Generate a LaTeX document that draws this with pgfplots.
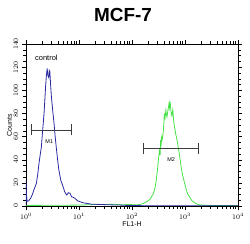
\documentclass[border=0pt]{standalone}
\usepackage{pgfplots}
\pgfplotsset{compat=1.18}
\usepackage{fontspec}
\setmainfont{Liberation Sans}
\definecolor{cblue}{RGB}{40,40,160}
\definecolor{cgreen}{RGB}{70,225,70}
\definecolor{mk}{RGB}{60,60,60}
\begin{document}
\begin{tikzpicture}
\useasboundingbox (0,0) rectangle (250bp,244bp);
\node[font=\bfseries\fontsize{19}{19}\selectfont] at (123bp,229bp) {MCF-7};
\begin{axis}[
  at={(26bp,38bp)}, anchor=south west,
  scale only axis, width=212bp, height=162bp,
  xmode=log, xmin=1, xmax=10000,
  ymin=0, ymax=140,
  ytick={0,20,40,60,80,100,120,140},
  minor y tick num=3,
  xtick={1,10,100,1000,10000},
  tick align=outside,
  tick label style={font=\fontsize{7.5}{7.5}\selectfont},
  yticklabel style={rotate=90},
  xlabel={FL1-H}, ylabel={Counts},
  label style={font=\fontsize{7}{7}\selectfont},
  xlabel style={yshift=5bp},
  ylabel style={yshift=-5bp},
  axis line style={black, line width=0.6pt},
  every tick/.style={black},
  clip=true,
]
\addplot[cgreen, line width=0.8pt] coordinates {
(1,0.5)(3,0.6)(10,0.8)(20,1.3)(30,1.2)(45,1.6)(60,1.0)(90,1.3)(123,0.9)(160,2)(190,3.8)(215,5.5)(234,8)(255,11)(275,16.7)(290,24)(302,31)(318,42)(331,48)(340,44)(347,57)(355,52)(363,60)(375,58)(389,64)(400,72)(407,80)(420,76)(437,83)(447,79)(457,77)(475,82)(490,86)(501,89)(512,85)(525,90)(538,84)(550,80)(565,78)(589,83)(610,74)(631,69)(670,62)(708,57)(750,50)(794,43)(850,33)(912,26)(980,20)(1047,14.9)(1130,10)(1230,7.7)(1350,4.5)(1514,2.9)(1700,1.6)(1905,1)(2344,0.7)(3000,0.5)(10000,0.5)
};
\addplot[cblue, line width=0.8pt] coordinates {
(1.0,0)(1.0,22)(1.02,10)(1.05,4)(1.12,4.5)(1.22,6.6)(1.32,10)(1.41,13.9)(1.57,19.6)(1.66,27)(1.76,37)(1.85,44)(1.95,51)(2.05,64)(2.19,80)(2.27,92)(2.34,103)(2.42,112)(2.51,119)(2.58,113)(2.69,111)(2.75,117)(2.82,116)(2.92,104)(3.02,94)(3.2,82)(3.39,71)(3.55,60)(3.72,51)(3.95,40)(4.17,31)(4.55,22)(5.01,16.7)(5.4,12)(5.89,9.5)(6.3,11.5)(6.76,11)(7.24,8)(7.8,7.5)(8.41,6.6)(9.4,4.5)(10.5,3.7)(12,2.8)(13.8,2.3)(17,1.6)(20,1.5)(30,1.2)(40,1)(60,0.8)(80,0.5)(150,0.3)(10000,0.3)
};
\addplot[mk, line width=0.7pt] coordinates {(1.28,65.7)(7.1,65.7)};
\addplot[mk, line width=0.7pt] coordinates {(1.28,61)(1.28,70.5)};
\addplot[mk, line width=0.7pt] coordinates {(7.1,61)(7.1,70.5)};
\addplot[mk, line width=0.7pt] coordinates {(162,49.8)(1780,49.8)};
\addplot[mk, line width=0.7pt] coordinates {(162,45)(162,54.6)};
\addplot[mk, line width=0.7pt] coordinates {(1780,45)(1780,54.6)};
\node[font=\fontsize{5.5}{5.5}\selectfont] at (axis cs:2.75,56) {M1};
\node[font=\fontsize{5.5}{5.5}\selectfont] at (axis cs:550,40) {M2};
\node[font=\fontsize{7.5}{7.5}\selectfont, anchor=west] at (axis cs:1.28,128) {control};
\end{axis}
\end{tikzpicture}
\end{document}
